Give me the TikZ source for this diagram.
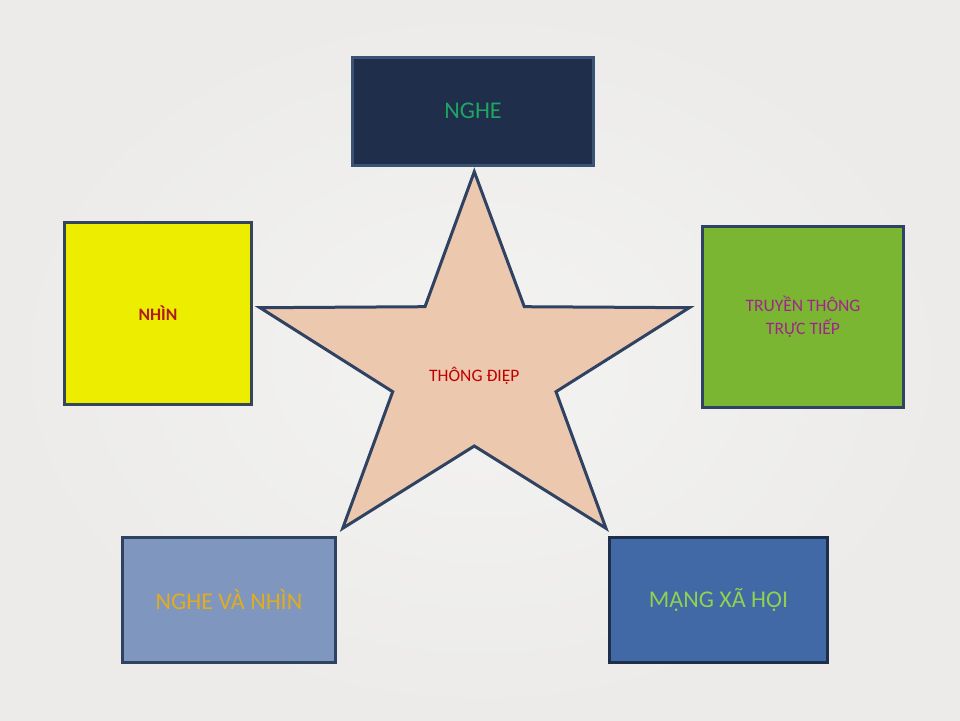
\documentclass[tikz,border=0pt]{standalone}
\usepackage{fontspec}
\setmainfont{Carlito}
\definecolor{bgin}{HTML}{F3F3F1}
\definecolor{bgout}{HTML}{ECEBE9}
\definecolor{navyfill}{HTML}{1F2E4A}
\definecolor{navyline}{HTML}{3A5273}
\definecolor{nghegreen}{HTML}{1FA463}
\definecolor{yellowfill}{HTML}{EDED00}
\definecolor{slateline}{HTML}{36465A}
\definecolor{nhinred}{HTML}{B01A1A}
\definecolor{grassfill}{HTML}{7AB632}
\definecolor{magentatext}{HTML}{A3238E}
\definecolor{paleblue}{HTML}{7F97BE}
\definecolor{goldtext}{HTML}{E3AC1F}
\definecolor{midblue}{HTML}{4169A6}
\definecolor{limetext}{HTML}{92D050}
\definecolor{peach}{HTML}{EBC8AE}
\definecolor{starline}{HTML}{2F4262}
\definecolor{stared}{HTML}{C00000}
\tikzset{
  box/.style={draw=slateline, line width=3pt, rectangle, align=center, inner sep=0pt},
  bigtext/.style={font=\fontsize{24}{28}\selectfont},
  smalltext/.style={font=\fontsize{17.5}{23}\selectfont}
}
\begin{document}
\begin{tikzpicture}[x=1pt, y=-1pt]
    % background
    \fill[inner color=bgin, outer color=bgout] (0,0) rectangle (960,720);
    \useasboundingbox (0,0) rectangle (960,720);
    % star
    \draw[fill=peach, draw=starline, line width=3pt, line join=miter]
        (474.3,171.7) -- (524.3,306.7) -- (689.3,307.7) -- (556,391.7)
        -- (606,528.3) -- (474.3,446) -- (342.7,528.3) -- (392.7,391.7)
        -- (260,307.7) -- (425,306.7) -- cycle;
    \node[smalltext, text=stared] (thongdiep) at (474.3,376) {THÔNG ĐIỆP};
    % boxes
    \node[box, fill=navyfill, draw=navyline, minimum width=241pt, minimum height=108pt,
        bigtext, text=nghegreen] (nghe) at (473,111) {NGHE};
    \node[box, fill=yellowfill, minimum width=187pt, minimum height=182pt,
        smalltext, text=nhinred] (nhin) at (158,313.5) {\textbf{NHÌN}};
    \node[box, fill=grassfill, draw=starline, minimum width=201pt, minimum height=181pt,
        smalltext, text=magentatext] (truyenthong) at (803,317) {TRUYỀN THÔNG\\TRỰC TIẾP};
    \node[box, fill=paleblue, draw=starline, minimum width=213pt, minimum height=125pt,
        bigtext, text=goldtext] (nghevanhin) at (229,600) {NGHE VÀ NHÌN};
    \node[box, fill=midblue, draw=navyfill, minimum width=218pt, minimum height=125pt,
        bigtext, text=limetext] (mangxahoi) at (718.5,600) {MẠNG XÃ HỘI};
\end{tikzpicture}
\end{document}
